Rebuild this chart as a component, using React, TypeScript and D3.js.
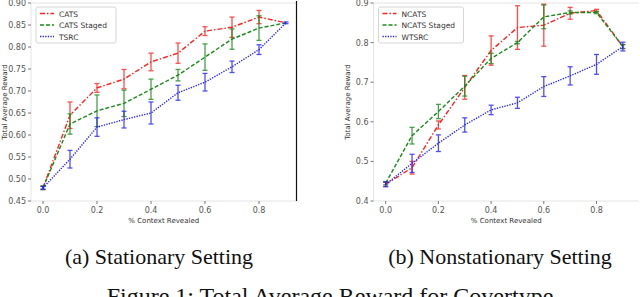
import * as d3 from "d3";

const xs = [0, 0.1, 0.2, 0.3, 0.4, 0.5, 0.6, 0.7, 0.8, 0.9];
const xTicks = [0, 0.2, 0.4, 0.6, 0.8];

// (a) stationary
const catsMean = [0.48, 0.645, 0.707, 0.727, 0.766, 0.786, 0.836, 0.845, 0.868, 0.855];
const catsErr = [0.004, 0.03, 0.01, 0.022, 0.02, 0.023, 0.01, 0.023, 0.015, 0];
const catsStagedMean = [0.48, 0.625, 0.655, 0.672, 0.704, 0.736, 0.777, 0.818, 0.843, 0.855];
const catsStagedErr = [0.004, 0.023, 0.036, 0.03, 0.023, 0.013, 0.03, 0.023, 0.028, 0];
const tsrcMean = [0.48, 0.545, 0.618, 0.635, 0.65, 0.696, 0.72, 0.755, 0.794, 0.855];
const tsrcErr = [0.003, 0.02, 0.021, 0.019, 0.025, 0.017, 0.02, 0.013, 0.011, 0.002];
const yTicksA = [0.45, 0.5, 0.55, 0.6, 0.65, 0.7, 0.75, 0.8, 0.85, 0.9];

// (b) nonstationary
const ncatsMean = [0.442, 0.484, 0.592, 0.687, 0.78, 0.838, 0.844, 0.874, 0.881, 0.79];
const ncatsErr = [0.005, 0.016, 0.01, 0.03, 0.037, 0.055, 0.053, 0.015, 0.003, 0.005];
const ncatsStagedMean = [0.445, 0.565, 0.626, 0.69, 0.76, 0.8, 0.865, 0.876, 0.876, 0.79];
const ncatsStagedErr = [0.004, 0.021, 0.018, 0.025, 0.013, 0.003, 0.03, 0.004, 0.003, 0.005];
const wtsrcMean = [0.442, 0.495, 0.546, 0.592, 0.63, 0.648, 0.689, 0.716, 0.745, 0.79];
const wtsrcErr = [0.006, 0.023, 0.021, 0.018, 0.012, 0.014, 0.025, 0.023, 0.025, 0.011];
const yTicksB = [0.4, 0.5, 0.6, 0.7, 0.8, 0.9];

const RED = "#ff2020";
const GREEN = "#1a8a1a";
const BLUE = "#2222ff";

interface Series {
  name: string;
  mean: number[];
  err: number[];
  color: string;
  dash: string;
}

interface PanelProps {
  left: number;
  right: number;
  x0: number; // pixel of x=0
  x02: number; // pixel of x=0.2
  yDomain: [number, number];
  yTicks: number[];
  yFmt: (v: number) => string;
  series: Series[];
  legendWidth: number;
  rightSpine: boolean;
}

function Panel({ left, right, x0, x02, yDomain, yTicks, yFmt, series, legendWidth, rightSpine }: PanelProps) {
  const top = 3;
  const bottom = 201;
  const step = (x02 - x0) / 0.2;
  const x = d3.scaleLinear().domain([0, 1]).range([x0, x0 + step]);
  const y = d3.scaleLinear().domain(yDomain).range([bottom, top]);
  const line = d3
    .line<number>()
    .x((_, i) => x(xs[i]))
    .y((d) => y(d));
  const tickFont = { fontFamily: "DejaVu Sans", fontSize: 8, fill: "#555" };
  const lx = left + 5;
  const ly = 7;

  return (
    <g>
      <line x1={left} x2={right} y1={top} y2={top} stroke="#ddd" strokeWidth={0.8} />
      <line x1={left} x2={right} y1={bottom} y2={bottom} stroke="#ddd" strokeWidth={0.8} />
      <line x1={left} x2={left} y1={top} y2={bottom} stroke="#ddd" strokeWidth={0.8} />
      {rightSpine && <line x1={right} x2={right} y1={top - 2} y2={bottom} stroke="#111" strokeWidth={1.2} />}
      {yTicks.map((t) => (
        <g key={`y-${t}`}>
          <line x1={left - 3} x2={left} y1={y(t)} y2={y(t)} stroke="#555" strokeWidth={0.8} />
          <text x={left - 5} y={y(t) + 3} textAnchor="end" {...tickFont}>
            {yFmt(t)}
          </text>
        </g>
      ))}
      {xTicks.map((t) => (
        <g key={`x-${t}`}>
          <line x1={x(t)} x2={x(t)} y1={bottom} y2={bottom + 3} stroke="#555" strokeWidth={0.8} />
          <text x={x(t)} y={bottom + 12} textAnchor="middle" {...tickFont}>
            {t.toFixed(1)}
          </text>
        </g>
      ))}
      <text x={(left + right) / 2} y={223} textAnchor="middle" fontFamily="DejaVu Sans" fontSize={7} fill="#333">
        % Context Revealed
      </text>
      <text
        transform={`translate(${left - 24}, ${(top + bottom) / 2}) rotate(-90)`}
        textAnchor="middle"
        fontFamily="DejaVu Sans"
        fontSize={7}
        fill="#333"
      >
        Total Average Reward
      </text>
      {series.map((s) => (
        <g key={s.name}>
          <path d={line(s.mean) ?? ""} fill="none" stroke={s.color} strokeWidth={1.4} strokeDasharray={s.dash} />
          {s.mean.map((m, i) =>
            s.err[i] > 0 ? (
              <g key={i} stroke={s.color} strokeWidth={1.3} opacity={0.8}>
                <line x1={x(xs[i])} x2={x(xs[i])} y1={y(m - s.err[i])} y2={y(m + s.err[i])} />
                <line x1={x(xs[i]) - 2.5} x2={x(xs[i]) + 2.5} y1={y(m - s.err[i])} y2={y(m - s.err[i])} />
                <line x1={x(xs[i]) - 2.5} x2={x(xs[i]) + 2.5} y1={y(m + s.err[i])} y2={y(m + s.err[i])} />
              </g>
            ) : null
          )}
        </g>
      ))}
      <rect x={lx} y={ly} width={legendWidth} height={36} rx={2} fill="white" fillOpacity={0.85} stroke="#ccc" strokeWidth={0.8} />
      {series.map((s, i) => (
        <g key={`lg-${s.name}`}>
          <line
            x1={lx + 4}
            x2={lx + 18}
            y1={ly + 6.5 + i * 11.5}
            y2={ly + 6.5 + i * 11.5}
            stroke={s.color}
            strokeWidth={1.4}
            strokeDasharray={s.dash}
          />
          <text x={lx + 23} y={ly + 9.5 + i * 11.5} fontFamily="DejaVu Sans" fontSize={7.5} fill="#333">
            {s.name}
          </text>
        </g>
      ))}
    </g>
  );
}

export default function App() {
  const seriesA: Series[] = [
    { name: "CATS", mean: catsMean, err: catsErr, color: RED, dash: "5,2,1.5,2" },
    { name: "CATS Staged", mean: catsStagedMean, err: catsStagedErr, color: GREEN, dash: "4,2" },
    { name: "TSRC", mean: tsrcMean, err: tsrcErr, color: BLUE, dash: "1.3,1.3" },
  ];
  const seriesB: Series[] = [
    { name: "NCATS", mean: ncatsMean, err: ncatsErr, color: RED, dash: "5,2,1.5,2" },
    { name: "NCATS Staged", mean: ncatsStagedMean, err: ncatsStagedErr, color: GREEN, dash: "4,2" },
    { name: "WTSRC", mean: wtsrcMean, err: wtsrcErr, color: BLUE, dash: "1.3,1.3" },
  ];
  return (
    <svg width={640} height={297} style={{ position: "absolute", left: 0, top: 0, background: "white" }}>
      <rect width={640} height={297} fill="white" />
      <Panel
        left={31}
        right={296.5}
        x0={43}
        x02={97}
        yDomain={[0.45, 0.9]}
        yTicks={yTicksA}
        yFmt={(v) => v.toFixed(2)}
        series={seriesA}
        legendWidth={80}
        rightSpine={true}
      />
      <Panel
        left={373.5}
        right={639}
        x0={385.7}
        x02={438.4}
        yDomain={[0.4, 0.9]}
        yTicks={yTicksB}
        yFmt={(v) => v.toFixed(1)}
        series={seriesB}
        legendWidth={85}
        rightSpine={false}
      />
      <text x={159} y={264} textAnchor="middle" fontFamily="Liberation Serif" fontSize={22} fill="#111">
        (a) Stationary Setting
      </text>
      <text x={500} y={264} textAnchor="middle" fontFamily="Liberation Serif" fontSize={22} fill="#111">
        (b) Nonstationary Setting
      </text>
      <text x={330} y={304} textAnchor="middle" fontFamily="Liberation Serif" fontSize={24} fill="#111">
        Figure 1: Total Average Reward for Covertype
      </text>
    </svg>
  );
}
